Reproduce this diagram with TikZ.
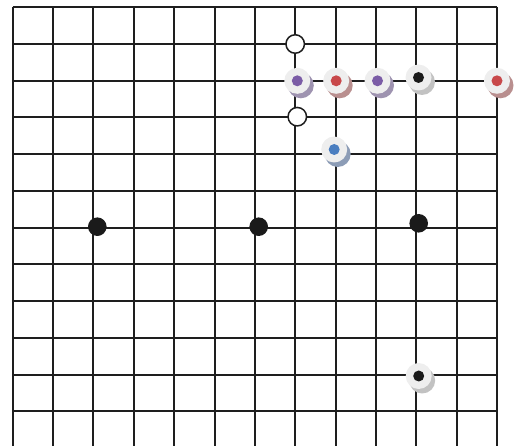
\documentclass[tikz,border=0pt]{standalone}
\usetikzlibrary{shadows}
\definecolor{gridc}{HTML}{1E1E1E}
\definecolor{diskc}{HTML}{EEEEEE}
\definecolor{purpc}{HTML}{7B5CA6}
\definecolor{redc}{HTML}{C8484A}
\definecolor{bluec}{HTML}{4A7EC0}
\definecolor{blkc}{HTML}{1A1A1A}
\definecolor{shpurp}{HTML}{9E93B0}
\definecolor{shred}{HTML}{B98F8F}
\definecolor{shblk}{HTML}{C2C2C2}
\definecolor{shblue}{HTML}{8C9CB6}
\tikzset{
  gridline/.style={draw=gridc, line width=2pt},
  blackstone/.style={circle, fill=blkc, draw=none, minimum size=18.6pt, inner sep=0pt},
  openstone/.style={circle, fill=white, draw=gridc, line width=1.5pt, minimum size=18.5pt, inner sep=0pt},
  disk/.style={circle, fill=diskc, draw=none, minimum size=26pt, inner sep=0pt,
    drop shadow={shadow xshift=3.5pt, shadow yshift=-4.5pt, fill=#1, opacity=1}},
  dotc/.style={circle, fill=#1, draw=none, minimum size=11pt, inner sep=0pt},
}
\begin{document}
\begin{tikzpicture}[x=1pt, y=-1pt]
\useasboundingbox (0,0) rectangle (515,446);
% grid
\foreach \i in {0,...,12} {
  \draw[gridline] ({12.7+40.36*\i},7) -- ({12.7+40.36*\i},446);
}
\foreach \j in {0,...,11} {
  \draw[gridline] (12.7,{7+36.77*\j}) -- (497.0,{7+36.77*\j});
}
% black stones
\node[blackstone] (b1) at (97.3,226.7) {};
\node[blackstone] (b2) at (258.7,226.7) {};
\node[blackstone] (b3) at (418.7,223.3) {};
% open stones
\node[openstone] (o1) at (295.2,44.0) {};
\node[openstone] (o2) at (297.3,116.7) {};
% marked stones
\node[disk=shpurp] (m1) at (297.3,80.8) {};
\node[dotc=purpc] at (m1) {};
\node[disk=shred] (m2) at (336.2,80.8) {};
\node[dotc=redc] at (m2) {};
\node[disk=shpurp] (m3) at (377.5,80.8) {};
\node[dotc=purpc] at (m3) {};
\node[disk=shblk] (m4) at (418.5,77.5) {};
\node[dotc=blkc] at (m4) {};
\node[disk=shred] (m5) at (497.0,80.8) {};
\node[dotc=redc] at (m5) {};
\node[disk=shblue] (m6) at (334.2,149.5) {};
\node[dotc=bluec] at (m6) {};
\node[disk=shblk] (m7) at (418.7,376.0) {};
\node[dotc=blkc] at (m7) {};
\end{tikzpicture}
\end{document}
